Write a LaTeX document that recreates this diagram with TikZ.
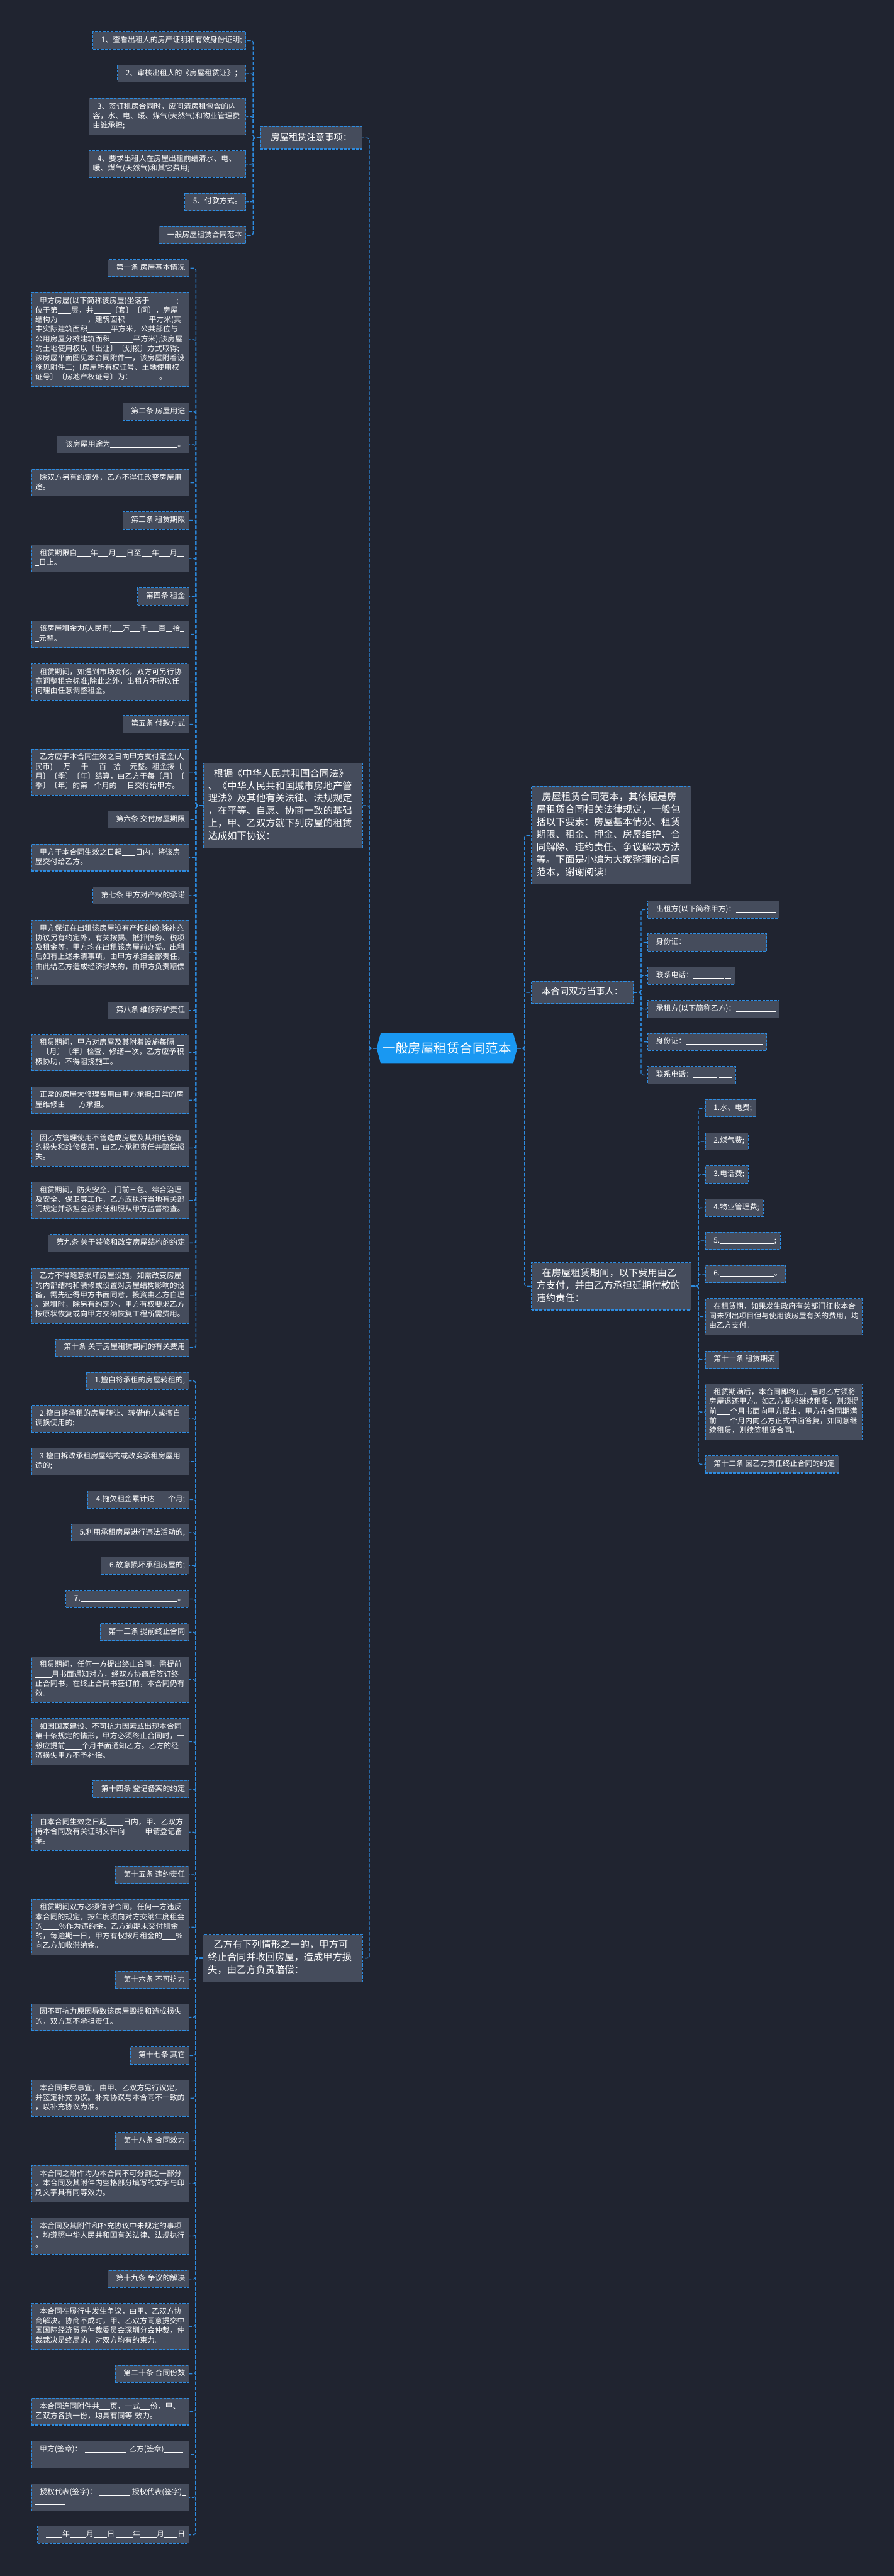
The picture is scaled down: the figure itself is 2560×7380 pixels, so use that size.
\documentclass[tikz,border=0pt]{standalone}
\usepackage{fontspec}
\setmainfont{Noto Sans CJK SC}
\usetikzlibrary{calc,backgrounds}
\definecolor{bgc}{RGB}{32,36,48}
\definecolor{boxc}{RGB}{69,76,92}
\definecolor{bcol}{RGB}{45,140,225}
\definecolor{cenc}{RGB}{25,152,242}
\newcommand\ii{\hspace*{0.6em}}
\newcommand\blk[1]{\rule[-0.1em]{#1em}{0.06em}}
\begin{document}
\begin{tikzpicture}[x=0.5pt,y=-0.5pt,
 bx/.style={draw=bcol, line width=1pt, dash pattern=on 3.8pt off 1.9pt, fill=boxc, text=white, inner xsep=5.5pt, inner ysep=5.5pt, align=left, font=\fontsize{10.7}{13.7}\selectfont, execute at begin node=\strut, execute at end node=\strut},
 lw/.style={text width=214.5pt},
 rw/.style={text width=213.5pt},
 lone/.style={bx, inner xsep=7pt, inner ysep=7pt, font=\fontsize{13.75}{18}\selectfont},
 lones/.style={lone, font=\fontsize{12.9}{18}\selectfont, align=center},
 conn/.style={draw=bcol, line width=1.25pt, dash pattern=on 5pt off 2.5pt, rounded corners=3pt},
 rootst/.style={text=white, font=\fontsize{18.45}{22}\selectfont, minimum width=201pt, minimum height=44pt, inner sep=0pt},
 le/.style={bx, anchor=east},
 ri/.style={bx, anchor=west}]
\useasboundingbox (0,0) rectangle (2560,7380);

% root
\node[rootst] (root) at (1280,3003) {一般房屋租赁合同范本};

% level 1 left
\node[lones, minimum width=145.5pt] (zhu) at (891.5,395) {房屋租赁注意事项：};
\node[lone, text width=214pt] (gen) at (810,2308) {\ii 根据《中华人民共和国合同法》\\、《中华人民共和国城市房地产管\\理法》及其他有关法律、法规规定\\，在平等、自愿、协商一致的基础\\上，甲、乙双方就下列房屋的租赁\\达成如下协议：};
\node[lone, text width=214.5pt] (yi) at (809.5,5610) {\ii 乙方有下列情形之一的，甲方可\\终止合同并收回房屋，造成甲方损\\失，由乙方负责赔偿：};

% level 1 right
\node[lone, text width=215pt, anchor=west] (fan) at (1521,2393) {\ii 房屋租赁合同范本，其依据是房\\屋租赁合同相关法律规定，一般包\\括以下要素：房屋基本情况、租赁\\期限、租金、押金、房屋维护、合\\同解除、违约责任、争议解决方法\\等。下面是小编为大家整理的合同\\范本，谢谢阅读!};
\node[lones, minimum width=146pt, anchor=west] (dang) at (1521,2843) {本合同双方当事人：};
\node[lone, text width=215pt, anchor=west] (zai) at (1521,3685) {\ii 在房屋租赁期间，以下费用由乙\\方支付，并由乙方承担延期付款的\\违约责任：};

% notes
\node[le] (t1) at (705,116) {\ii 1、查看出租人的房产证明和有效身份证明;};
\node[le] (t2) at (705,211) {\ii 2、审核出租人的《房屋租赁证》；};
\node[le, rw] (t3) at (705,334) {\ii 3、签订租房合同时，应问清房租包含的内\\容，水、电、暖、煤气(天然气)和物业管理费\\由谁承担;};
\node[le, rw] (t4) at (705,470) {\ii 4、要求出租人在房屋出租前结清水、电、\\暖、煤气(天然气)和其它费用;};
\node[le] (t5) at (705,578) {\ii 5、付款方式。};
\node[le] (t6) at (705,674) {\ii 一般房屋租赁合同范本};

% children of gen
\node[le] (g1) at (542,768) {\ii 第一条 房屋基本情况};
\node[le, lw] (g2) at (542,973) {\ii 甲方房屋(以下简称该房屋)坐落于\blk{3.6};\\位于第\blk{1.8}层，共\blk{2.3}〔套〕〔间〕，房屋\\结构为\blk{4}，建筑面积\blk{3.2}平方米(其\\中实际建筑面积\blk{3.1}平方米，公共部位与\\公用房屋分摊建筑面积\blk{3.1}平方米);该房屋\\的土地使用权以〔出让〕〔划拨〕方式取得;\\该房屋平面图见本合同附件一，该房屋附着设\\施见附件二;〔房屋所有权证号、土地使用权\\证号〕〔房地产权证号〕为：\blk{3.6}。};
\node[le] (g3) at (542,1179) {\ii 第二条 房屋用途};
\node[le] (g4) at (542,1274) {\ii 该房屋用途为\blk{9}。};
\node[le, lw] (g5) at (542,1383) {\ii 除双方另有约定外，乙方不得任改变房屋用\\途。};
\node[le] (g6) at (542,1491) {\ii 第三条 租赁期限};
\node[le, lw] (g7) at (542,1600) {\ii 租赁期限自\blk{1.8}年\blk{1.4}月\blk{1.4}日至\blk{1.4}年\blk{1.4}月\blk{0.9}\\\blk{0.5}日止。};
\node[le] (g8) at (542,1709) {\ii 第四条 租金};
\node[le, lw] (g9) at (542,1817) {\ii 该房屋租金为(人民币)\blk{1.4}万\blk{1.4}千\blk{1.4}百\blk{0.9}拾\blk{0.5}\\\blk{0.5}元整。};
\node[le, lw] (g10) at (542,1954) {\ii 租赁期间，如遇到市场变化，双方可另行协\\商调整租金标准;除此之外，出租方不得以任\\何理由任意调整租金。};
\node[le] (g11) at (542,2075) {\ii 第五条 付款方式};
\node[le, lw] (g12) at (542,2212) {\ii 乙方应于本合同生效之日向甲方支付定金(人\\民币)\blk{1.4}万\blk{1.4}千\blk{1.4}百\blk{0.9}拾~\blk{0.9}元整。租金按〔\\月〕〔季〕〔年〕结算，由乙方于每〔月〕〔\\季〕〔年〕的第\blk{0.9}个月的\blk{1.4}日交付给甲方。};
\node[le] (g13) at (542,2348) {\ii 第六条 交付房屋期限};
\node[le, lw] (g14) at (542,2457) {\ii 甲方于本合同生效之日起\blk{1.8}日内，将该房\\屋交付给乙方。};
\node[le] (g15) at (542,2566) {\ii 第七条 甲方对产权的承诺};
\node[le, lw] (g16) at (542,2730) {\ii 甲方保证在出租该房屋没有产权纠纷;除补充\\协议另有约定外，有关按揭、抵押债务、税项\\及租金等，甲方均在出租该房屋前办妥。出租\\后如有上述未清事项，由甲方承担全部责任，\\由此给乙方造成经济损失的，由甲方负责赔偿\\。};
\node[le] (g17) at (542,2895) {\ii 第八条 维修养护责任};
\node[le, lw] (g18) at (542,3016) {\ii 租赁期间，甲方对房屋及其附着设施每隔~\blk{0.9}\\\blk{0.9}〔月〕〔年〕检查、修缮一次，乙方应予积\\极协助，不得阻挠施工。};
\node[le, lw] (g19) at (542,3152) {\ii 正常的房屋大修理费用由甲方承担;日常的房\\屋维修由\blk{1.8}方承担。};
\node[le, lw] (g20) at (542,3289) {\ii 因乙方管理使用不善造成房屋及其相连设备\\的损失和维修费用，由乙方承担责任并赔偿损\\失。};
\node[le, lw] (g21) at (542,3439) {\ii 租赁期间，防火安全、门前三包、综合治理\\及安全、保卫等工作，乙方应执行当地有关部\\门规定并承担全部责任和服从甲方监督检查。};
\node[le] (g22) at (542,3561) {\ii 第九条 关于装修和改变房屋结构的约定};
\node[le, lw] (g23) at (542,3712) {\ii 乙方不得随意损坏房屋设施，如需改变房屋\\的内部结构和装修或设置对房屋结构影响的设\\备，需先征得甲方书面同意，投资由乙方自理\\。退租时，除另有约定外，甲方有权要求乙方\\按原状恢复或向甲方交纳恢复工程所需费用。};
\node[le] (g24) at (542,3861) {\ii 第十条 关于房屋租赁期间的有关费用};

% children of yi
\node[le] (y1) at (542,3956) {\ii 1.擅自将承租的房屋转租的;};
\node[le, lw] (y2) at (542,4065) {\ii 2.擅自将承租的房屋转让、转借他人或擅自\\调换使用的;};
\node[le, lw] (y3) at (542,4187) {\ii 3.擅自拆改承租房屋结构或改变承租房屋用\\途的;};
\node[le] (y4) at (542,4296) {\ii 4.拖欠租金累计达\blk{1.8}个月;};
\node[le] (y5) at (542,4391) {\ii 5.利用承租房屋进行违法活动的;};
\node[le] (y6) at (542,4485) {\ii 6.故意损坏承租房屋的;};
\node[le] (y7) at (542,4581) {\ii 7.\blk{13}。};
\node[le] (y8) at (542,4676) {\ii 第十三条 提前终止合同};
\node[le, lw] (y9) at (542,4812) {\ii 租赁期间，任何一方提出终止合同，需提前\\\blk{2.2}月书面通知对方，经双方协商后签订终\\止合同书，在终止合同书签订前，本合同仍有\\效。};
\node[le, lw] (y10) at (542,4990) {\ii 如因国家建设、不可抗力因素或出现本合同\\第十条规定的情形，甲方必须终止合同时，一\\般应提前\blk{2.2}个月书面通知乙方。乙方的经\\济损失甲方不予补偿。};
\node[le] (y11) at (542,5126) {\ii 第十四条 登记备案的约定};
\node[le, lw] (y12) at (542,5249) {\ii 自本合同生效之日起\blk{2.2}日内，甲、乙双方\\持本合同及有关证明文件向\blk{2.7}申请登记备\\案。};
\node[le] (y13) at (542,5371) {\ii 第十五条 违约责任};
\node[le, lw] (y14) at (542,5521) {\ii 租赁期间双方必须信守合同，任何一方违反\\本合同的规定，按年度须向对方交纳年度租金\\的\blk{2.2}\%作为违约金。乙方逾期未交付租金\\的，每逾期一日，甲方有权按月租金的\blk{1.8}\%\\向乙方加收滞纳金。};
\node[le] (y15) at (542,5672) {\ii 第十六条 不可抗力};
\node[le, lw] (y16) at (542,5779) {\ii 因不可抗力原因导致该房屋毁损和造成损失\\的，双方互不承担责任。};
\node[le] (y17) at (542,5889) {\ii 第十七条 其它};
\node[le, lw] (y18) at (542,6011) {\ii 本合同未尽事宜，由甲、乙双方另行议定，\\并签定补充协议。补充协议与本合同不一致的\\，以补充协议为准。};
\node[le] (y19) at (542,6134) {\ii 第十八条 合同效力};
\node[le, lw] (y20) at (542,6256) {\ii 本合同之附件均为本合同不可分割之一部分\\。本合同及其附件内空格部分填写的文字与印\\刷文字具有同等效力。};
\node[le, lw] (y21) at (542,6406) {\ii 本合同及其附件和补充协议中未规定的事项\\，均遵照中华人民共和国有关法律、法规执行\\。};
\node[le] (y22) at (542,6529) {\ii 第十九条 争议的解决};
\node[le, lw] (y23) at (542,6665) {\ii 本合同在履行中发生争议，由甲、乙双方协\\商解决。协商不成时，甲、乙双方同意提交中\\国国际经济贸易仲裁委员会深圳分会仲裁，仲\\裁裁决是终局的，对双方均有约束力。};
\node[le] (y24) at (542,6801) {\ii 第二十条 合同份数};
\node[le, lw] (y25) at (542,6909) {\ii 本合同连同附件共\blk{1.4}页，一式\blk{1.4}份，甲、\\乙双方各执一份，均具有同等~效力。};
\node[le, lw] (y26) at (542,7032) {\ii 甲方(签章)：~\blk{5.6}~乙方(签章)\blk{2.6}\\\blk{2.2}};
\node[le, lw] (y27) at (542,7155) {\ii 授权代表(签字)：~\blk{4}~授权代表(签字)\blk{0.5}\\\blk{4}};
\node[le] (y28) at (542,7262) {\ii \blk{2.2}年\blk{2.2}月\blk{1.8}日~\blk{2.2}年\blk{2.2}月\blk{1.8}日};

% children of dang
\node[ri] (d1) at (1854,2606) {\ii 出租方(以下简称甲方)：\blk{5.3}};
\node[ri] (d2) at (1854,2700) {\ii 身份证：\blk{10.3}};
\node[ri] (d3) at (1854,2795) {\ii 联系电话：\blk{4}~\blk{0.85}};
\node[ri] (d4) at (1854,2891) {\ii 承租方(以下简称乙方)：\blk{5.3}};
\node[ri] (d5) at (1854,2985) {\ii 身份证：\blk{10.3}};
\node[ri] (d6) at (1854,3080) {\ii 联系电话：\blk{3.2}~\blk{1.7}};

% children of zai
\node[ri] (z1) at (2019,3175) {\ii 1.水、电费;};
\node[ri] (z2) at (2019,3270) {\ii 2.煤气费;};
\node[ri] (z3) at (2019,3365) {\ii 3.电话费;};
\node[ri] (z4) at (2019,3460) {\ii 4.物业管理费;};
\node[ri] (z5) at (2019,3555) {\ii 5.\blk{7.3};};
\node[ri] (z6) at (2019,3650) {\ii 6.\blk{7.3}。};
\node[ri, rw] (z7) at (2019,3772) {\ii 在租赁期，如果发生政府有关部门征收本合\\同未列出项目但与使用该房屋有关的费用，均\\由乙方支付。};
\node[ri] (z8) at (2019,3895) {\ii 第十一条 租赁期满};
\node[ri, rw] (z9) at (2019,4045) {\ii 租赁期满后，本合同即终止，届时乙方须将\\房屋退还甲方。如乙方要求继续租赁，则须提\\前\blk{1.8}个月书面向甲方提出，甲方在合同期满\\前\blk{1.8}个月内向乙方正式书面答复，如同意继\\续租赁，则续签租赁合同。};
\node[ri] (z10) at (2019,4195) {\ii 第十二条 因乙方责任终止合同的约定};

\begin{pgfonlayer}{background}
\fill[bgc] (0,0) rectangle (2560,7380);
\fill[cenc] ($(root.north west)+(12,0)$) -- ($(root.north east)+(-12,0)$) -- (root.east) -- ($(root.south east)+(-12,0)$) -- ($(root.south west)+(12,0)$) -- (root.west) -- cycle;
% main connectors
\foreach \n in {zhu,gen,yi} \draw[conn] (root.west) -- ++(-21,0) |- (\n.east);
\foreach \n in {fan,dang,zai} \draw[conn] (root.east) -- ++(21,0) |- (\n.west);
\foreach \i in {1,...,6} \draw[conn] (zhu.west) -- ++(-20,0) |- (t\i.east);
\foreach \i in {1,...,24} \draw[conn] (gen.west) -- ++(-20,0) |- (g\i.east);
\foreach \i in {1,...,28} \draw[conn] (yi.west) -- ++(-20,0) |- (y\i.east);
\foreach \i in {1,...,6} \draw[conn] (dang.east) -- ++(21,0) |- (d\i.west);
\foreach \i in {1,...,10} \draw[conn] (zai.east) -- ++(19,0) |- (z\i.west);
\end{pgfonlayer}
\end{tikzpicture}
\end{document}
